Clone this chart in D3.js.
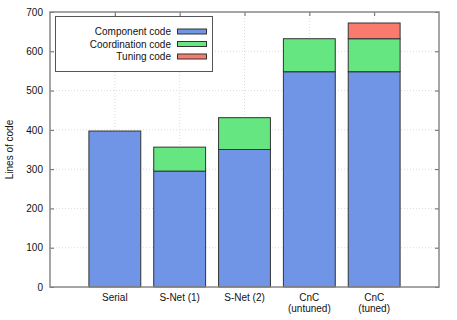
<!DOCTYPE html>
<html><head><meta charset="utf-8">
<script src="https://cdn.jsdelivr.net/npm/d3@7"></script>
<style>body{margin:0;background:#fff}svg{display:block}text{font-family:"Liberation Sans",Arial,sans-serif;font-size:10px;fill:#111}</style>
</head><body><div id="chart"></div>
<script>
const categories = [["Serial"], ["S-Net (1)"], ["S-Net (2)"], ["CnC", "(untuned)"], ["CnC", "(tuned)"]];
const componentCode = [397, 295, 350, 548, 548];
const coordinationCode = [0, 61, 81, 84, 84];
const tuningCode = [0, 0, 0, 0, 40];
const seriesNames = ["Component code", "Coordination code", "Tuning code"];
const seriesColors = ["#7094e6", "#66e680", "#fa7b6e"];
const yTicks = [0, 100, 200, 300, 400, 500, 600, 700];

const W = 457, H = 320;
const m = {l: 50, r: 18, t: 12, b: 33};
const svg = d3.select("#chart").append("svg").attr("width", W).attr("height", H);
const x = d3.scaleLinear().domain([0, categories.length + 1]).range([m.l, W - m.r]);
const y = d3.scaleLinear().domain([0, 700]).range([H - m.b, m.t]);
const bw = (x(1) - x(0)) * 0.8;

// grid
const g = svg.append("g");
g.selectAll(".gy").data(yTicks.slice(1, -1)).join("line")
  .attr("x1", m.l).attr("x2", W - m.r).attr("y1", d => y(d)).attr("y2", d => y(d))
  .attr("stroke", "#ccc").attr("stroke-width", 0.7).attr("stroke-dasharray", "1,2");
g.selectAll(".gx").data(categories.map((c, i) => i + 1)).join("line")
  .attr("x1", d => x(d)).attr("x2", d => x(d)).attr("y1", m.t).attr("y2", H - m.b)
  .attr("stroke", "#ccc").attr("stroke-width", 0.7).attr("stroke-dasharray", "1,2");

// stacked bars
const series = [componentCode, coordinationCode, tuningCode];
const rows = categories.map((c, i) => ({i, vals: series.map(s => s[i])}));
rows.forEach(r => {
  let base = 0;
  r.vals.forEach((v, k) => {
    if (v > 0) {
      svg.append("rect")
        .attr("x", x(r.i + 1) - bw / 2).attr("width", bw)
        .attr("y", y(base + v)).attr("height", y(base) - y(base + v))
        .attr("fill", seriesColors[k]).attr("stroke", "#333").attr("stroke-width", 1);
    }
    base += v;
  });
});

// axes
const yAxis = d3.axisLeft(y).tickValues(yTicks).tickSize(-4).tickPadding(7);
const ya = svg.append("g").attr("transform", `translate(${m.l},0)`).call(yAxis);
const yr = svg.append("g").attr("transform", `translate(${W - m.r},0)`).call(d3.axisRight(y).tickValues(yTicks).tickSize(-4).tickFormat(""));
const xTop = svg.append("g").attr("transform", `translate(0,${m.t})`).call(d3.axisTop(x).tickValues([1,2,3,4,5]).tickSize(-4).tickFormat(""));
const xBot = svg.append("g").attr("transform", `translate(0,${H - m.b})`).call(d3.axisBottom(x).tickValues([1,2,3,4,5]).tickSize(0).tickFormat(""));
[ya, yr, xTop, xBot].forEach(a => {
  a.select(".domain").remove();
  a.selectAll("line").attr("stroke", "#666");
  a.selectAll("text").attr("fill", "#111").style("font-size", "10px").style("font-family", '"Liberation Sans",Arial,sans-serif');
});
// x labels
categories.forEach((lines, i) => {
  const t = svg.append("text").attr("x", x(i + 1)).attr("y", H - m.b + 14).attr("text-anchor", "middle");
  lines.forEach((s, j) => t.append("tspan").attr("x", x(i + 1)).attr("dy", j === 0 ? 0 : 11).text(s));
});
// frame
svg.append("rect").attr("x", m.l).attr("y", m.t).attr("width", W - m.r - m.l).attr("height", H - m.b - m.t)
  .attr("fill", "none").attr("stroke", "#888").attr("stroke-width", 1.5);

// y label
svg.append("text").attr("transform", `translate(13,${(m.t + H - m.b) / 2}) rotate(-90)`)
  .attr("text-anchor", "middle").text("Lines of code");

// legend
svg.append("rect").attr("x", 55.5).attr("y", 16.5).attr("width", 157).attr("height", 55)
  .attr("fill", "#fff").attr("stroke", "#555").attr("stroke-width", 1);
seriesNames.forEach((n, k) => {
  const cy = 31.5 + k * 12.5;
  svg.append("text").attr("x", 171).attr("y", cy + 3.5).attr("text-anchor", "end").text(n);
  svg.append("rect").attr("x", 177.5).attr("y", cy - 2.5).attr("width", 29).attr("height", 5)
    .attr("fill", seriesColors[k]).attr("stroke", "#333").attr("stroke-width", 1);
});
</script></body></html>
